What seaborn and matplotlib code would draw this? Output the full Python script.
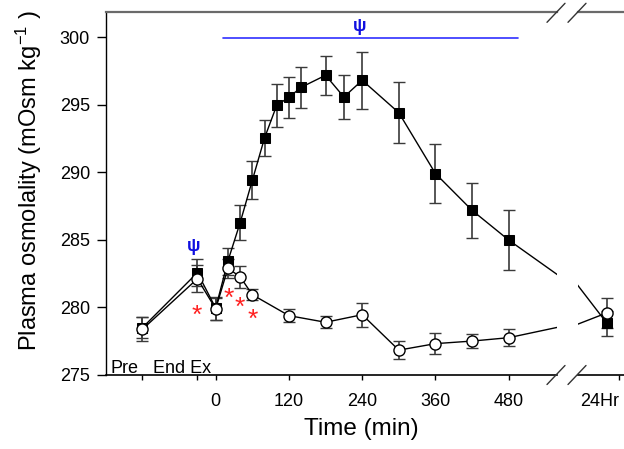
import numpy as np
import matplotlib
matplotlib.use("Agg")
import matplotlib.pyplot as plt
from matplotlib.lines import Line2D
import seaborn as sns

# ---------------- data ----------------
time_labels = ["Pre", "End Ex", "0", "20", "40", "60", "80", "100", "120", "140",
               "180", "210", "240", "300", "360", "420", "480", "24Hr"]
sq_time = [-120, -30, 0, 20, 40, 60, 80, 100, 120, 140, 180, 210, 240, 300, 360, 420, 480, 1440]
sq_mean = [278.5, 282.57, 279.95, 283.43, 286.26, 289.4, 292.53, 294.95, 295.54, 296.28,
           297.17, 295.56, 296.8, 294.4, 289.9, 287.18, 284.98, 278.82]
sq_err = [0.8, 1.0, 0.85, 1.0, 1.3, 1.4, 1.3, 1.6, 1.5, 1.5, 1.45, 1.65, 2.1, 2.25, 2.2,
          2.05, 2.25, 0.9]

ci_time = [-120, -30, 0, 20, 40, 60, 120, 180, 240, 300, 360, 420, 480, 1440]
ci_mean = [278.38, 282.12, 279.9, 282.89, 282.27, 280.94, 279.39, 278.9, 279.46, 276.84,
           277.32, 277.51, 277.76, 279.6]
ci_err = [0.9, 1.0, 0.8, 0.7, 0.8, 0.4, 0.5, 0.45, 0.9, 0.65, 0.8, 0.5, 0.65, 1.1]

xtick_vals = [-120, -30, 0, 120, 240, 360, 480]
xtick_text = ["", "", "0", "120", "240", "360", "480"]
ytick_vals = [275, 280, 285, 290, 295, 300]

# plotting position of the 24 h sample on the broken axis
POS_24H = 672


def xpos(t):
    return np.array([v if v <= 480 else POS_24H for v in t], dtype=float)


# ---------------- style ----------------
sns.set_style("ticks")
plt.rcParams["font.family"] = ["Liberation Sans", "DejaVu Sans"]
plt.rcParams["mathtext.fontset"] = "custom"
plt.rcParams["mathtext.rm"] = "Liberation Sans"
plt.rcParams["mathtext.default"] = "regular"
for k in ("text.color", "axes.labelcolor", "xtick.color", "ytick.color"):
    plt.rcParams[k] = "black"

W, H = 624, 449
fig = plt.figure(figsize=(W / 100, H / 100), dpi=100)
axL = fig.add_axes([106 / W, 74 / H, (557 - 106) / W, 363 / H])
axR = fig.add_axes([578 / W, 74 / H, (624 - 578) / W, 363 / H], sharey=axL)


def draw(ax):
    xs, xc = xpos(sq_time), xpos(ci_time)
    ax.errorbar(xs, sq_mean, yerr=sq_err, fmt="none", ecolor="#3a3a3a",
                elinewidth=1.2, capsize=4, capthick=1.0, zorder=2)
    ax.errorbar(xc, ci_mean, yerr=ci_err, fmt="none", ecolor="#3a3a3a",
                elinewidth=1.2, capsize=4, capthick=1.0, zorder=2)
    sns.lineplot(x=xs, y=sq_mean, ax=ax, sort=False, estimator=None, color="black",
                 lw=1.0, marker="s", markersize=7, markerfacecolor="black",
                 markeredgecolor="black", zorder=3)
    sns.lineplot(x=xc, y=ci_mean, ax=ax, sort=False, estimator=None, color="black",
                 lw=1.0, marker="o", markersize=8, markerfacecolor="white",
                 markeredgecolor="black", markeredgewidth=1.0, zorder=4)


draw(axL)
draw(axR)

for ax in (axL, axR):
    ax.set_ylim(275, 301.85)
    ax.spines["top"].set_color("#6a6a6a")
    ax.spines["top"].set_linewidth(1.6)
    ax.spines["bottom"].set_color("black")
    ax.spines["bottom"].set_linewidth(1.2)
    ax.spines["right"].set_visible(False)
    ax.tick_params(axis="x", direction="out", length=3.6, width=1.0, pad=9.5,
                   labelsize=13, colors="black")
    ax.set_xlabel("")
    ax.set_ylabel("")

axL.set_xlim(-179.7, 559.1)
axL.spines["left"].set_color("black")
axL.spines["left"].set_linewidth(1.0)
axL.set_xticks(xtick_vals)
axL.set_xticklabels(xtick_text)
axL.set_yticks(ytick_vals)
axL.tick_params(axis="y", direction="out", length=6.5, width=1.0, pad=5, labelsize=13)

axR.set_xlim(585, 723)
axR.spines["left"].set_visible(False)
axR.set_xticks([708])
axR.set_xticklabels(["24Hr"], ha="right")
axR.tick_params(axis="y", left=False, labelleft=False)

axL.set_ylabel("Plasma osmolality (mOsm kg$^{-1}$ )", fontsize=17)
axL.yaxis.set_label_coords(-0.138, 0.534)
fig.text(361 / W, 1 - 418 / H, "Time (min)", fontsize=17.5, ha="center", va="top")

# in-axes time labels
axL.text(-173, 275.17, "Pre", fontsize=13, ha="left", va="baseline")
axL.text(-102, 275.17, "End Ex", fontsize=13, ha="left", va="baseline")

# significance markers
axL.plot([12.5, 494.7], [299.93, 299.93], color="#3030ff", lw=1.2, zorder=1)
axL.text(236, 300.8, "ψ", color="#1010e0", fontsize=13, fontweight="bold",
         ha="center", va="center")
axL.text(-35.5, 284.54, "ψ", color="#1010e0", fontsize=13, fontweight="bold",
         ha="center", va="center")
for x, y in [(-31, 279.98), (22, 281.23), (40, 280.55), (60, 279.66)]:
    axL.text(x, y - 1.1, "*", color="#ff2020", fontsize=19,
             ha="center", va="baseline")

# axis-break marks
for yc in (12.8, 375):
    for xc in (556, 577):
        fig.add_artist(Line2D([(xc - 9) / W, (xc + 9) / W],
                              [1 - (yc + 9.5) / H, 1 - (yc - 9.5) / H],
                              transform=fig.transFigure, color="#333333", lw=1.0))

fig.savefig("out.png", dpi=100)
